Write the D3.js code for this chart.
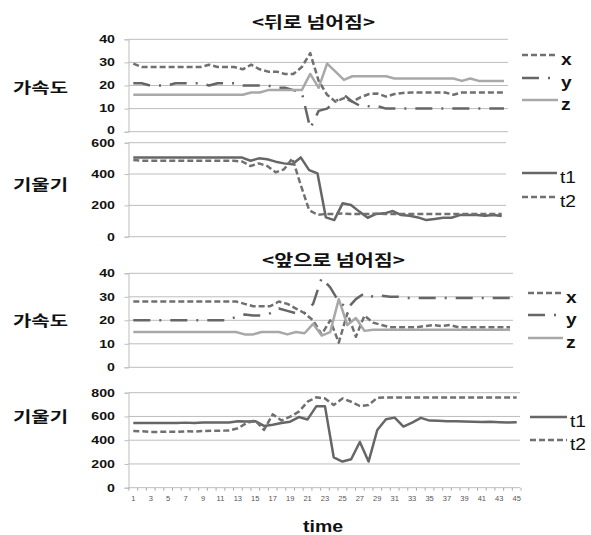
<!DOCTYPE html>
<html>
<head>
<meta charset="utf-8">
<script src="https://cdn.jsdelivr.net/npm/d3@7/dist/d3.min.js"></script>
<style>
  body { margin: 0; background: #fff; }
  text { font-family: "Liberation Sans", Arial, sans-serif; }
  .ko { font-family: "Noto Sans CJK KR", sans-serif; font-weight: bold; }
</style>
</head>
<body>
<svg id="chart" width="591" height="535"></svg>
<script>
// time axis 1..45
var categories = d3.range(1, 46);
var xTickLabels = categories.filter(function(d){ return d % 2 == 1; });

var accTicks = [0, 10, 20, 30, 40];
var tiltBackTicks = [0, 200, 400, 600];
var tiltFrontTicks = [0, 200, 400, 600, 800];

// <뒤로 넘어짐> 가속도
var accBackX = [29.5,28,28,28,28,28,28,28,28,29, 28,28,28,27,29,27,26,26,25,25, 28,34,22,16,13,14.5,13,15,16.3,16.5, 15.2,16.3,16.8,17,17,17,17,17,16,17, 17,17,17,17,17];
var accBackY = [21,21,20,20,20,21,21,21,21,20, 21,21,21,20,20,20,20,19,19,18, 17,1.5,9,10,13,16,13,11,11,11, 10,10,10,10,10,10,10,10,10,10, 10,10,10,10,10];
var accBackZ = [16,16,16,16,16,16,16,16,16,16, 16,16,16,16,17,17,18,18,18,18, 18,25,19,29.5,26,22.4,24,24,24,24, 24,23,23,23,23,23,23,23,23,22, 23,22,22,22,22];

// <뒤로 넘어짐> 기울기
var tiltBackT1 = [505,505,505,505,505,505,505,505,505,505, 505,505,505,505,485,500,494,479,468,462, 506,425,404,123,106,213,202,160,121,145, 149,164,138,134,123,106,113,121,121,138, 138,138,134,138,132];
var tiltBackT2 = [489,485,485,485,485,485,485,485,485,485, 485,485,485,480,451,468,451,411,430,500, 330,170,140,145,145,148,145,145,145,147, 145,145,145,145,145,145,145,145,145,145, 145,145,145,145,145];

// <앞으로 넘어짐> 가속도
var accFrontX = [28,28,28,28,28,28,28,28,28,28, 28,28,28,27,26,26,26,28,27,25, 23,20,14,20,10.5,23,13,22,19,18, 17,17,17,17,17.5,18,17.5,18,17,17, 17,17,17,17,17];
var accFrontY = [20,20,20,20,20,20,20,20,20,20, 20,20,21.5,22.5,22,22,23,25,24,23, 23,27,38,34,28,25,29,31.5,30,30.5, 30,30,29.5,29.5,29.5,29.5,29.5,29.5,29.5,29.5, 29.5,29.5,29.5,29.5,29.5];
var accFrontZ = [15,15,15,15,15,15,15,15,15,15, 15,15,15,14,14,15,15,15,14,15, 14.5,18.5,13.5,15,29,18,21,15.5,16,16, 16,16,16,16,16,16,16,16,16,16, 16,16,16,16,16];

// <앞으로 넘어짐> 기울기
var tiltFrontT1 = [545,545,545,545,545,545,548,545,550,550, 550,550,560,558,560,520,530,545,556,595, 575,685,685,256,220,240,385,220,486,576, 590,515,548,588,565,563,560,560,558,555, 553,555,552,550,552];
var tiltFrontT2 = [477,475,470,470,472,470,475,472,478,480, 480,482,500,545,566,486,618,566,598,640, 724,761,752,696,752,724,688,696,758,760, 760,760,760,760,760,760,760,760,760,760, 760,760,760,760,760];

var svg = d3.select("#chart");
svg.append("rect").attr("width", 591).attr("height", 535).attr("fill", "#fff");

var axisX = 128.5;

var styleX  = { color: "#707070", dash: "6,3" };
var styleY  = { color: "#666666", dash: "17,9,2,9" };
var styleZ  = { color: "#a8a8a8", dash: null };
var styleT1 = { color: "#666666", dash: null };
var styleT2 = { color: "#707070", dash: "6,3" };

var panels = [
  { top: 39.3, bottom: 131.7, max: 40, ticks: accTicks, endX: 504, gridEnd: 508,
    label: "가속도", labelY: 86, zeroNudge: -1.5,
    legendX: 522, legendW: 36,
    series: [
      { name: "x", values: accBackX, style: styleX, ly: 55, bold: true },
      { name: "y", values: accBackY, style: styleY, ly: 78, bold: true },
      { name: "z", values: accBackZ, style: styleZ, ly: 100, bold: true }
    ] },
  { top: 142.7, bottom: 236.7, max: 600, ticks: tiltBackTicks, endX: 501.7, gridEnd: 506,
    label: "기울기", labelY: 183,
    legendX: 522, legendW: 35,
    series: [
      { name: "t1", values: tiltBackT1, style: styleT1, ly: 173 },
      { name: "t2", values: tiltBackT2, style: styleT2, ly: 197 }
    ] },
  { top: 273.3, bottom: 367.3, max: 40, ticks: accTicks, endX: 510, gridEnd: 513,
    label: "가속도", labelY: 319,
    legendX: 528, legendW: 35,
    series: [
      { name: "x", values: accFrontX, style: styleX, ly: 293, bold: true },
      { name: "y", values: accFrontY, style: styleY, ly: 315, bold: true },
      { name: "z", values: accFrontZ, style: styleZ, ly: 338, bold: true }
    ] },
  { top: 392.7, bottom: 487.7, max: 800, ticks: tiltFrontTicks, endX: 516.7, gridEnd: 520,
    label: "기울기", labelY: 415, xLabels: true,
    legendX: 530, legendW: 37,
    series: [
      { name: "t1", values: tiltFrontT1, style: styleT1, ly: 417 },
      { name: "t2", values: tiltFrontT2, style: styleT2, ly: 440 }
    ] }
];

panels.forEach(function(p){
  var g = svg.append("g");
  var x = d3.scalePoint().domain(categories).range([133.3, p.endX]);
  var y = d3.scaleLinear().domain([0, p.max]).range([p.bottom, p.top]);

  // gridlines
  g.selectAll("line.grid")
    .data(p.ticks)
    .enter().append("line")
      .attr("x1", axisX).attr("x2", p.gridEnd)
      .attr("y1", function(d){ return y(d); })
      .attr("y2", function(d){ return y(d); })
      .attr("stroke", "#bdbdbd")
      .attr("stroke-width", 1);

  // y axis
  var ax = g.append("g")
    .attr("transform", "translate(" + axisX + ",0)")
    .call(d3.axisLeft(y).tickValues(p.ticks).tickSize(4).tickPadding(6));
  ax.select(".domain").attr("stroke", "#bdbdbd");
  ax.selectAll(".tick line").attr("stroke", "#bdbdbd");
  ax.selectAll(".tick text")
    .attr("font-family", "'Liberation Sans', Arial, sans-serif")
    .attr("font-size", 10.5)
    .attr("font-weight", "bold")
    .attr("fill", "#111")
    .attr("transform", function(d){
      var dy = (d == 0 && p.zeroNudge) ? p.zeroNudge : 0;
      return "translate(0," + dy + ") scale(1.35,1)";
    });

  // category tick marks on the time axis
  if (p.xLabels) {
    var step = x.step();
    var bounds = categories.map(function(c){ return x(c) - step / 2; });
    bounds.push(x(categories[categories.length - 1]) + step / 2);
    g.selectAll("line.xt")
      .data(bounds)
      .enter().append("line")
        .attr("x1", function(d){ return d; }).attr("x2", function(d){ return d; })
        .attr("y1", p.bottom).attr("y2", p.bottom + 3)
        .attr("stroke", "#aaa");
    g.selectAll("text.xl")
      .data(xTickLabels)
      .enter().append("text")
        .attr("x", function(d){ return x(d); })
        .attr("y", 501)
        .attr("text-anchor", "middle")
        .attr("font-family", "'DejaVu Sans', Verdana, sans-serif")
        .attr("font-size", 7.5)
        .attr("fill", "#555")
        .text(function(d){ return d; });
  }

  // series lines
  var line = d3.line()
    .x(function(d, i){ return x(categories[i]); })
    .y(function(d){ return y(d); });

  p.series.forEach(function(s){
    g.append("path")
      .datum(s.values)
      .attr("d", line)
      .attr("fill", "none")
      .attr("stroke", s.style.color)
      .attr("stroke-width", 2.5)
      .attr("stroke-linejoin", "round")
      .attr("stroke-dasharray", s.style.dash);

    g.append("line")
      .attr("x1", p.legendX).attr("x2", p.legendX + p.legendW)
      .attr("y1", s.ly).attr("y2", s.ly)
      .attr("stroke", s.style.color)
      .attr("stroke-width", 2.5)
      .attr("stroke-dasharray", s.style.dash);
    g.append("text")
      .attr("transform", "translate(" + (p.legendX + p.legendW + 3) + "," + (s.ly + 10) + ") scale(1.2,1)")
      .attr("font-size", 16)
      .attr("font-weight", s.bold ? "bold" : "normal")
      .attr("fill", "#111")
      .text(s.name);
  });

  // side label
  g.append("text")
    .attr("class", "ko")
    .attr("x", 13).attr("y", p.labelY)
    .attr("dominant-baseline", "central")
    .attr("font-size", 15)
    .attr("textLength", 55)
    .attr("lengthAdjust", "spacingAndGlyphs")
    .attr("fill", "#111")
    .text(p.label);
});

// titles
svg.append("text")
  .attr("class", "ko")
  .attr("x", 252).attr("y", 21)
  .attr("dominant-baseline", "central")
  .attr("font-size", 15.5)
  .attr("textLength", 123)
  .attr("lengthAdjust", "spacingAndGlyphs")
  .attr("fill", "#111")
  .text("<뒤로 넘어짐>");

svg.append("text")
  .attr("class", "ko")
  .attr("x", 262).attr("y", 259)
  .attr("dominant-baseline", "central")
  .attr("font-size", 15.5)
  .attr("textLength", 143)
  .attr("lengthAdjust", "spacingAndGlyphs")
  .attr("fill", "#111")
  .text("<앞으로 넘어짐>");

svg.append("text")
  .attr("x", 303).attr("y", 532)
  .attr("font-size", 16)
  .attr("font-weight", "bold")
  .attr("textLength", 40)
  .attr("lengthAdjust", "spacingAndGlyphs")
  .attr("fill", "#111")
  .text("time");
</script>
</body>
</html>
